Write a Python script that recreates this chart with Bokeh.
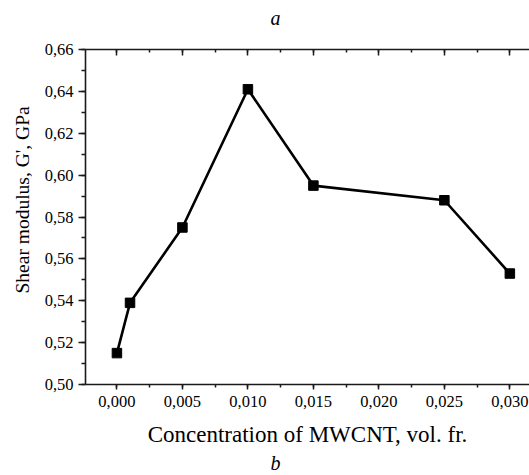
from bokeh.plotting import figure
from bokeh.models import (Range1d, LinearAxis, SingleIntervalTicker, CustomJSTickFormatter,
                          Title, ColumnDataSource)
from bokeh.embed import file_html
from bokeh.resources import INLINE

# ---- data ----
concentration = [0.000, 0.001, 0.005, 0.010, 0.015, 0.025, 0.030]
shear_modulus = [0.515, 0.539, 0.575, 0.641, 0.595, 0.588, 0.553]

x_label = "Concentration of MWCNT, vol. fr."
y_label = "Shear modulus, G', GPa"
top_caption = "a"
bottom_caption = "b"

FONT = "Liberation Serif"
AX = "#1a1a1a"

src = ColumnDataSource(dict(x=concentration, y=shear_modulus))

p = figure(width=529, height=475, output_backend="svg", toolbar_location=None,
           x_range=Range1d(-0.0024, 0.0315), y_range=Range1d(0.50, 0.66),
           min_border_left=85, min_border_right=0, min_border_top=49, min_border_bottom=91,
           x_axis_label=x_label)
p.outline_line_color = None
p.xgrid.visible = False
p.ygrid.visible = False
p.background_fill_color = "white"
p.border_fill_color = "white"

xt = SingleIntervalTicker(interval=0.005, num_minor_ticks=2)
yt = SingleIntervalTicker(interval=0.02, num_minor_ticks=2)
xfmt = CustomJSTickFormatter(code="return tick.toFixed(3).replace('.', ',');")
yfmt = CustomJSTickFormatter(code="return tick.toFixed(2).replace('.', ',');")

for ax, t, f in ((p.xaxis[0], xt, xfmt), (p.yaxis[0], yt, yfmt)):
    ax.ticker = t
    ax.formatter = f
    ax.axis_line_color = AX
    ax.axis_line_width = 1.6
    ax.major_tick_line_color = AX
    ax.minor_tick_line_color = AX
    ax.major_tick_line_width = 1.5
    ax.minor_tick_line_width = 1.5
    ax.major_tick_in = 0
    ax.minor_tick_in = 0
    ax.major_label_text_font = FONT
    ax.major_label_text_font_size = "16.5px"
    ax.major_label_text_color = "black"
    ax.axis_label_text_font = FONT
    ax.axis_label_text_font_style = "normal"
    ax.axis_label_text_color = "black"

p.xaxis[0].major_tick_out = 5
p.xaxis[0].minor_tick_out = 3
p.xaxis[0].major_label_standoff = 6
p.xaxis[0].axis_label_text_font_size = "23px"
p.xaxis[0].axis_label_standoff = 12

p.yaxis[0].major_tick_out = 7
p.yaxis[0].minor_tick_out = 4
p.yaxis[0].major_label_standoff = 5

# top axis: inward ticks, no labels
top = LinearAxis(ticker=SingleIntervalTicker(interval=0.005, num_minor_ticks=2),
                 formatter=CustomJSTickFormatter(code="return '';"))
top.axis_line_color = AX
top.axis_line_width = 1.6
top.major_tick_line_color = AX
top.minor_tick_line_color = AX
top.major_tick_line_width = 1.5
top.minor_tick_line_width = 1.5
top.major_tick_in = 6
top.major_tick_out = 0
top.minor_tick_in = 3
top.minor_tick_out = 0
top.major_label_standoff = 0
top.major_label_text_font_size = "0px"
top.axis_label = " "
top.axis_label_text_font_size = "1px"
top.axis_label_standoff = 16
p.add_layout(top, "above")

p.line("x", "y", source=src, line_color="black", line_width=2.6)
p.scatter("x", "y", source=src, marker="square", size=9.5, fill_color="black",
          line_color="black")

t_y = Title(text=y_label, align="left", offset=91, text_font=FONT,
            text_font_style="normal", text_font_size="19.5px", text_color="black",
            standoff=18)
p.add_layout(t_y, "left")

t_a = Title(text=top_caption, align="left", offset=185, text_font=FONT,
            text_font_style="italic", text_font_size="20px", text_color="black",
            standoff=2)
p.add_layout(t_a, "above")

t_b = Title(text=bottom_caption, align="left", offset=185, text_font=FONT,
            text_font_style="italic", text_font_size="20px", text_color="black",
            standoff=0)
p.add_layout(t_b, "below")

open("out.html", "w").write(file_html(p, INLINE))
